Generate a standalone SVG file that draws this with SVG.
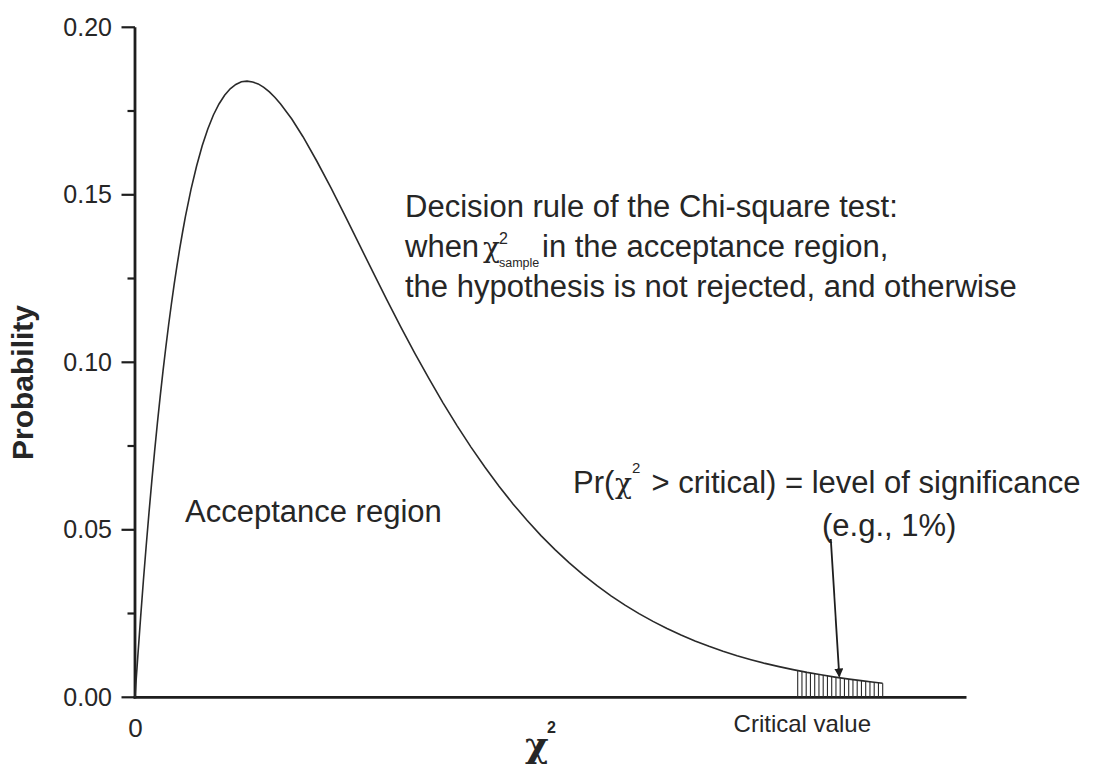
<svg xmlns="http://www.w3.org/2000/svg" width="1099" height="770" viewBox="0 0 1099 770">
<style>
  .axis{stroke:#1e1e1e;stroke-width:2.8;fill:none;stroke-linecap:butt}
  .tick{stroke:#1e1e1e;stroke-width:2.2}
  .curve{stroke:#2a2a2a;stroke-width:1.6;fill:none}
  .hatch{stroke:#2a2a2a;stroke-width:1.1}
  .t{font-family:"Liberation Sans",Arial,sans-serif;fill:#262626}
  .tl{font-size:25px;text-anchor:end}
  .big{font-size:31px}
  .chi{font-family:"DejaVu Serif","Liberation Serif",serif;fill:#262626}
  .sup{font-family:"Liberation Sans",Arial,sans-serif;fill:#262626}
  .arrow{stroke:#1e1e1e;stroke-width:1.8;fill:none}
</style>
<defs>
  <marker id="ah" viewBox="0 0 10 10" refX="9" refY="5" markerWidth="5" markerHeight="5" orient="auto" markerUnits="strokeWidth">
    <path d="M0,0 L10,5 L0,10 z" fill="#1e1e1e"/>
  </marker>
</defs>
<rect width="1099" height="770" fill="#ffffff"/>

<g id="y-axis">
  <line class="axis" x1="135" y1="27.3" x2="135" y2="698.5"/>
  <line class="tick" x1="121.5" y1="27.3" x2="135" y2="27.3"/>
  <line class="tick" x1="127.5" y1="111" x2="135" y2="111"/>
  <line class="tick" x1="121.5" y1="194.8" x2="135" y2="194.8"/>
  <line class="tick" x1="127.5" y1="278.5" x2="135" y2="278.5"/>
  <line class="tick" x1="121.5" y1="362.3" x2="135" y2="362.3"/>
  <line class="tick" x1="127.5" y1="446" x2="135" y2="446"/>
  <line class="tick" x1="121.5" y1="529.8" x2="135" y2="529.8"/>
  <line class="tick" x1="127.5" y1="613.5" x2="135" y2="613.5"/>
  <line class="tick" x1="121.5" y1="697.3" x2="135" y2="697.3"/>
  <text class="t tl" x="112" y="35.5">0.20</text>
  <text class="t tl" x="112" y="203">0.15</text>
  <text class="t tl" x="112" y="370.5">0.10</text>
  <text class="t tl" x="112" y="538">0.05</text>
  <text class="t tl" x="112" y="705.5">0.00</text>
  <text class="t" font-size="30" font-weight="bold" text-anchor="middle" transform="translate(33,382.5) rotate(-90)">Probability</text>
</g>

<g id="x-axis">
  <line class="axis" x1="133.6" y1="697.3" x2="966.5" y2="697.3"/>
  <text class="t" font-size="26" text-anchor="middle" x="135.5" y="737">0</text>
  <text class="t" font-size="24" text-anchor="end" x="871" y="732">Critical value</text>
  <text class="chi" font-size="36" font-weight="bold" x="525" y="757">χ</text>
  <text class="sup" font-size="16" font-weight="bold" x="547" y="733">2</text>
</g>

<g id="density-curve">
  <polyline class="curve" points="135,697.3 136.1,680.7 137.8,656.5 140.6,617.6 143.4,580.5 146.2,545.7 149,512.6 151.8,481.1 154.6,451.4 157.4,423 160.2,396.4 163,371.2 165.8,347.5 168.6,325 171.4,304 174.2,284.2 177,265.7 179.8,248.2 182.6,232 185.4,216.7 191,189.3 196.6,166 202.2,145.8 207.8,129 213.4,115 219,104 224.6,95.2 230.2,88.8 235.8,84.4 241.4,81.8 247,81.1 252.6,82 258.2,83.9 263.8,87.3 269.4,91.9 275,97.5 280.6,103.9 291.8,119 303,136.7 317,161.5 331,187.8 345,215.7 359,243.9 373,272.2 387,300.1 401,327.3 415,353.6 429,378.7 443,402.8 457,425.6 471,447.1 485,467.3 499,486.2 513,503.9 527,520.3 541,535.6 555,549.6 569,562.6 583,574.6 597,585.7 611,595.8 625,605.1 639,613.6 653,621.4 667,628.5 681,635 695,640.9 709,646.3 723,651.2 737,655.7 751,659.7 765,663.4 779,666.6 793,669.6 807,672.4 821,674.8 835,677.1 849,679.1 863,680.9 872,682 882.6,683.2"/>
</g>

<g id="rejection-region">
  <line class="hatch" x1="797.7" y1="697.3" x2="797.7" y2="670.5"/>
  <line class="hatch" x1="801.95" y1="697.3" x2="801.95" y2="671.4"/>
  <line class="hatch" x1="806.2" y1="697.3" x2="806.2" y2="672.2"/>
  <line class="hatch" x1="810.45" y1="697.3" x2="810.45" y2="673"/>
  <line class="hatch" x1="814.7" y1="697.3" x2="814.7" y2="673.7"/>
  <line class="hatch" x1="818.95" y1="697.3" x2="818.95" y2="674.4"/>
  <line class="hatch" x1="823.2" y1="697.3" x2="823.2" y2="675.1"/>
  <line class="hatch" x1="827.45" y1="697.3" x2="827.45" y2="675.8"/>
  <line class="hatch" x1="831.7" y1="697.3" x2="831.7" y2="676.5"/>
  <line class="hatch" x1="835.95" y1="697.3" x2="835.95" y2="677.2"/>
  <line class="hatch" x1="840.2" y1="697.3" x2="840.2" y2="677.8"/>
  <line class="hatch" x1="844.45" y1="697.3" x2="844.45" y2="678.4"/>
  <line class="hatch" x1="848.7" y1="697.3" x2="848.7" y2="679"/>
  <line class="hatch" x1="852.95" y1="697.3" x2="852.95" y2="679.5"/>
  <line class="hatch" x1="857.2" y1="697.3" x2="857.2" y2="680.1"/>
  <line class="hatch" x1="861.45" y1="697.3" x2="861.45" y2="680.7"/>
  <line class="hatch" x1="865.7" y1="697.3" x2="865.7" y2="681.2"/>
  <line class="hatch" x1="869.95" y1="697.3" x2="869.95" y2="681.7"/>
  <line class="hatch" x1="874.2" y1="697.3" x2="874.2" y2="682.2"/>
  <line class="hatch" x1="878.45" y1="697.3" x2="878.45" y2="682.7"/>
  <line class="hatch" x1="882.7" y1="697.3" x2="882.7" y2="683.2"/>
</g>

<g id="acceptance-label">
  <text class="t big" x="185" y="521.5">Acceptance region</text>
</g>

<g id="decision-rule">
  <text class="t big" x="405" y="217">Decision rule of the Chi-square test:</text>
  <text class="t big" x="405" y="256.5">when</text>
  <text class="chi" font-size="28" x="483" y="256.5">χ</text>
  <text class="sup" font-size="16" x="499" y="244">2</text>
  <text class="sup" font-size="12.5" x="499" y="267">sample</text>
  <text class="t big" x="542" y="256.5">in the acceptance region,</text>
  <text class="t big" x="405" y="297">the hypothesis is not rejected, and otherwise</text>
</g>

<g id="significance-label">
  <text class="t big" x="573" y="493">Pr(</text>
  <text class="chi" font-size="28" x="615" y="493">χ</text>
  <text class="sup" font-size="15" x="632" y="473">2</text>
  <text class="t big" x="651.5" y="493">&gt; critical) = level of significance</text>
  <text class="t big" x="822" y="535.5">(e.g., 1%)</text>
</g>

<g id="connectors">
  <line class="arrow" x1="830.8" y1="539" x2="839.3" y2="676.5" marker-end="url(#ah)"/>
</g>
</svg>
